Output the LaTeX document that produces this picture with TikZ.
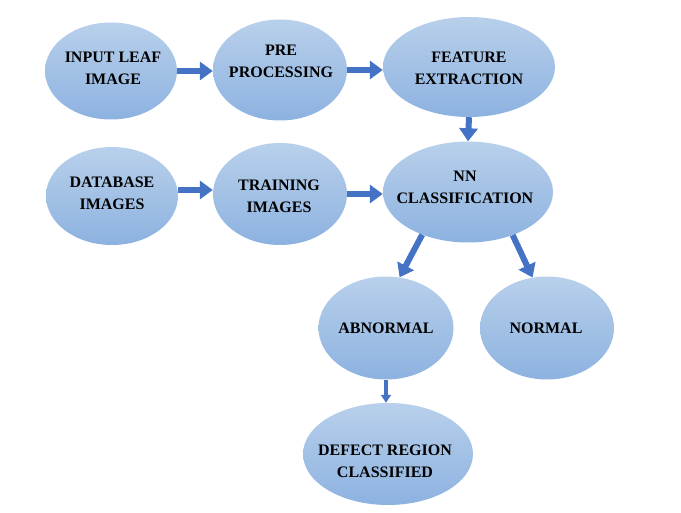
\documentclass[tikz,border=0pt]{standalone}
\usepackage{fontspec}
\setmainfont{Liberation Serif}
\usetikzlibrary{shapes.geometric,arrows.meta}
\definecolor{elltop}{HTML}{B8D0EB}
\definecolor{ellbot}{HTML}{8DB2E0}
\definecolor{arrblue}{HTML}{4472C4}
\tikzset{
  ell/.style={ellipse, inner sep=0pt, top color=elltop, bottom color=ellbot, draw=none},
  lbl/.style={align=center, inner sep=0pt, font=\fontsize{16}{22}\selectfont\bfseries},
  bigarrow/.style={draw=arrblue, line width=6pt, -{Triangle[length=13pt,width=18pt]}},
  smallarrow/.style={draw=arrblue, line width=3.5pt, -{Triangle[length=8pt,width=10pt]}}
}
\begin{document}
\begin{tikzpicture}[x=1pt,y=-1pt]
\useasboundingbox (0,0) rectangle (681,513);
% ellipses
\node[ell, minimum width=132pt, minimum height=97pt] (in) at (111,71) {};
\node[ell, minimum width=134pt, minimum height=101pt] (pre) at (280,70) {};
\node[ell, minimum width=172pt, minimum height=100pt] (feat) at (469,67) {};
\node[ell, minimum width=132pt, minimum height=98pt] (db) at (112,196) {};
\node[ell, minimum width=134pt, minimum height=102pt] (train) at (280,194) {};
\node[ell, minimum width=170pt, minimum height=101pt] (nn) at (468,192) {};
\node[ell, minimum width=135pt, minimum height=103pt] (abn) at (386,328) {};
\node[ell, minimum width=134pt, minimum height=103pt] (norm) at (547,328) {};
\node[ell, minimum width=170pt, minimum height=102pt] (def) at (388,454) {};
% labels
\node[lbl] (tin) at (113,68) {INPUT LEAF\\IMAGE};
\node[lbl] (tpre) at (281,61.5) {PRE\\PROCESSING};
\node[lbl] (tfeat) at (469,68) {FEATURE\\EXTRACTION};
\node[lbl] (tdb) at (112,193) {DATABASE\\IMAGES};
\node[lbl] (ttrain) at (279,196.5) {TRAINING\\IMAGES};
\node[lbl] (tnn) at (465,187.5) {NN\\CLASSIFICATION};
\node[lbl] (tabn) at (386,328) {ABNORMAL};
\node[lbl] (tnorm) at (546,328) {NORMAL};
\node[lbl] (tdef) at (385,461) {DEFECT REGION\\CLASSIFIED};
% arrows
\draw[bigarrow] (in.east) -- (in.east -| pre.west);
\draw[bigarrow] (pre.east) -- (pre.east -| feat.west);
\draw[bigarrow] (feat.south) -- (nn.north);
\draw[bigarrow] ([yshift=6pt]db.east) -- ([yshift=6pt]db.east -| train.west);
\draw[bigarrow] (train.east) -- (train.east -| nn.west);
\draw[bigarrow] (nn.223) -- (abn.75);
\draw[bigarrow] (nn.316) -- (norm.106);
\draw[smallarrow] (abn.south) -- (abn.south |- def.north);
\end{tikzpicture}
\end{document}
